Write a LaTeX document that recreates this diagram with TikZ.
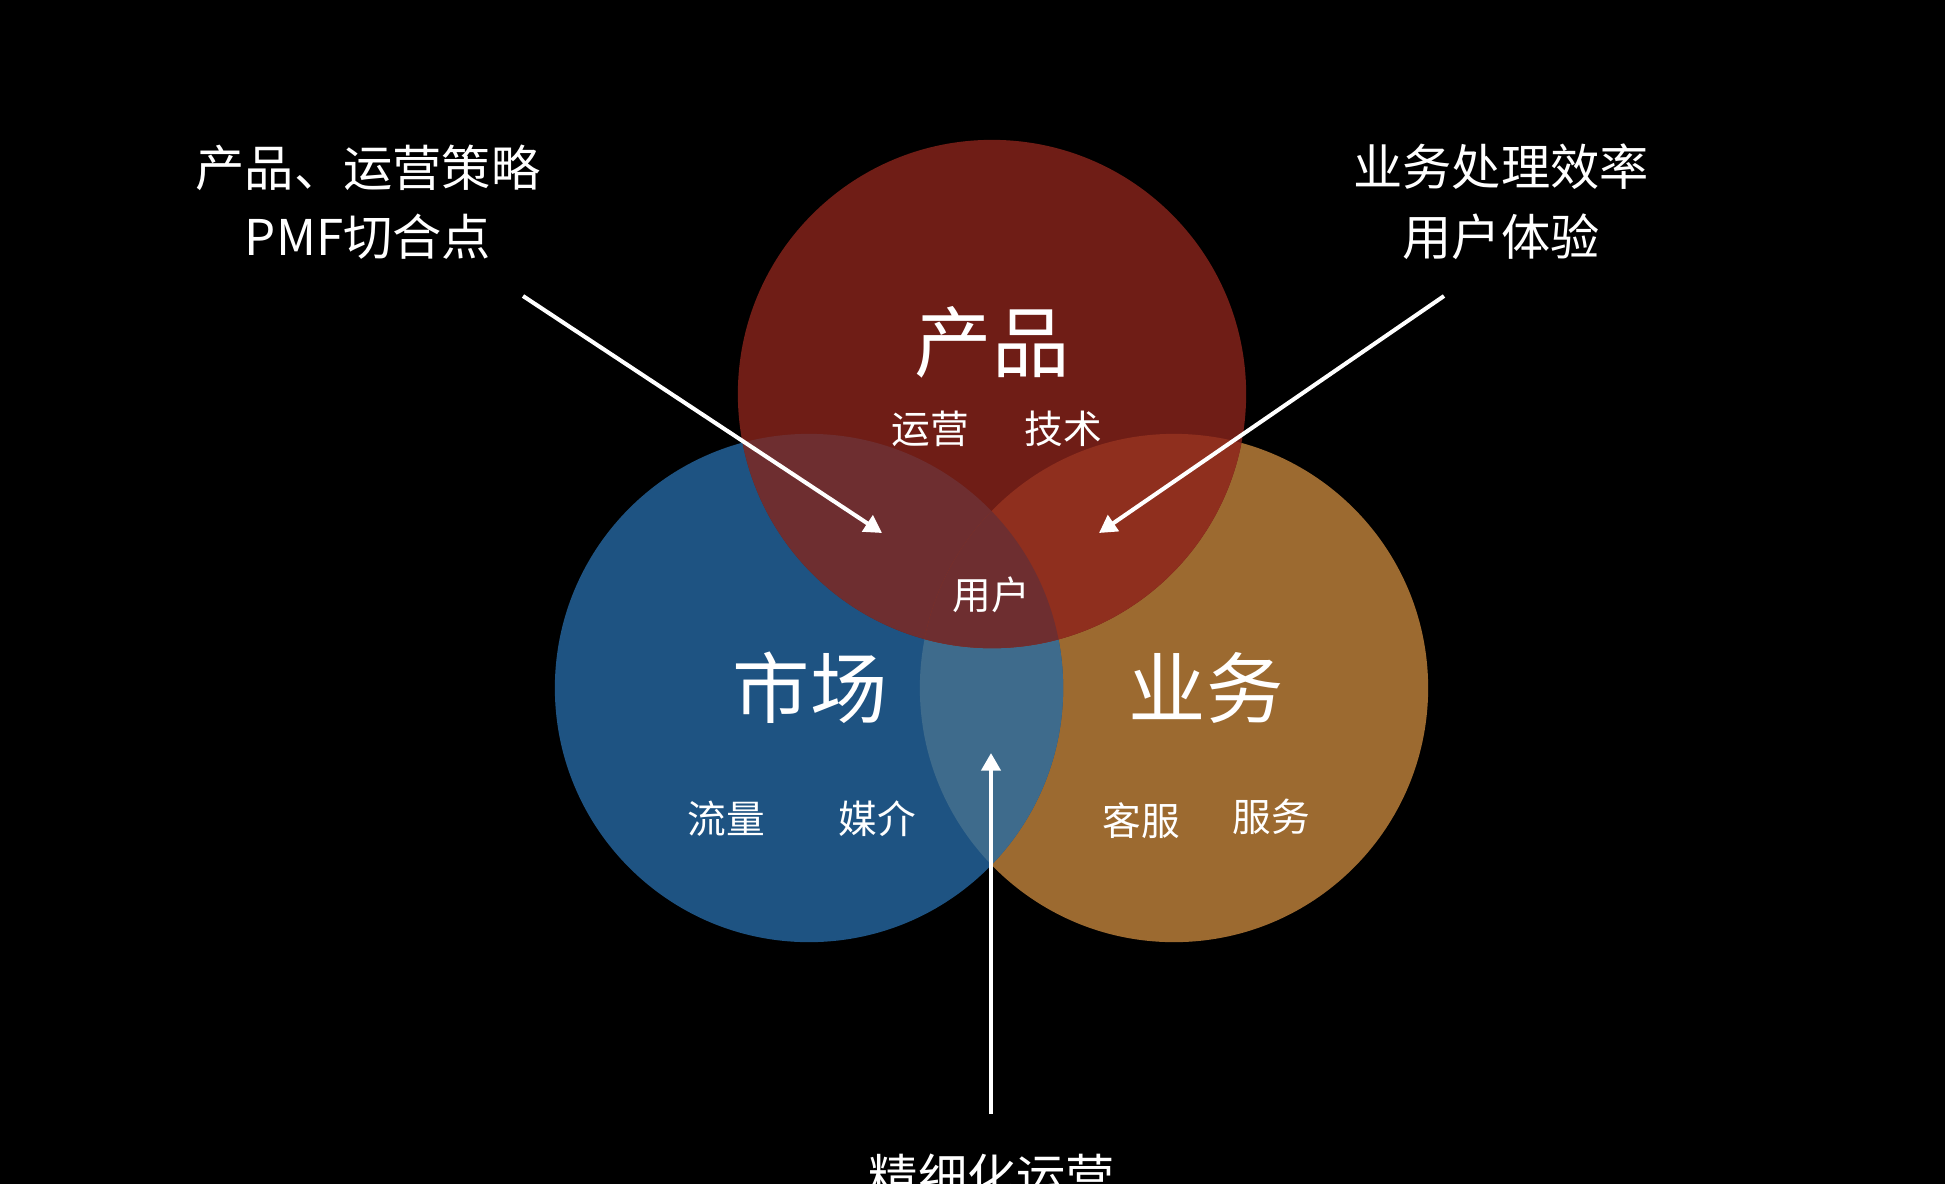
\documentclass[tikz,border=0pt]{standalone}
\usepackage{fontspec}
\setmainfont{Noto Sans CJK SC}
\usetikzlibrary{arrows.meta}

\definecolor{prodred}{RGB}{111,29,22}
\definecolor{mktblue}{RGB}{30,83,130}
\definecolor{bizorange}{RGB}{156,106,48}
\definecolor{redblue}{RGB}{110,46,48}
\definecolor{redorange}{RGB}{143,47,30}
\definecolor{blueorange}{RGB}{62,107,140}

\begin{document}
\begin{tikzpicture}[x=0.01cm,y=-0.01cm]

    % background, fixes the page size too
    \fill[black] (0,0) rectangle (1945,1184);
    \clip (0,0) rectangle (1945,1184);

    % the three circles, use the tuple for the centres
    \coordinate (P) at (992,394);
    \coordinate (M) at (809,688);
    \coordinate (B) at (1174,688);

    \fill[bizorange] (B) circle [radius=2.54cm];
    \fill[mktblue] (M) circle [radius=2.54cm];
    \fill[prodred] (P) circle [radius=2.54cm];

    % overlaps
    \begin{scope}
    \clip (M) circle [radius=2.54cm];
    \fill[blueorange] (B) circle [radius=2.54cm];
    \fill[redblue] (P) circle [radius=2.54cm];
    \end{scope}
    \begin{scope}
    \clip (P) circle [radius=2.54cm];
    \fill[redorange] (B) circle [radius=2.54cm];
    \clip (M) circle [radius=2.54cm];
    \fill[redblue] (B) circle [radius=2.54cm];
    \end{scope}

    % labels inside the circles
    \begin{scope}[every node/.style={text=white,inner sep=0pt}]
    \node[font=\fontsize{22pt}{26pt}\selectfont] (prod) at (992,342) {产品};
    \node[font=\fontsize{22pt}{26pt}\selectfont] (mkt) at (810,688) {市场};
    \node[font=\fontsize{22pt}{26pt}\selectfont] (biz) at (1206,688) {业务};
    \node[font=\fontsize{11pt}{13pt}\selectfont] (ops) at (930,429) {运营};
    \node[font=\fontsize{11pt}{13pt}\selectfont] (tech) at (1063,429) {技术};
    \node[font=\fontsize{11pt}{13pt}\selectfont] (user) at (991,595) {用户};
    \node[font=\fontsize{11pt}{13pt}\selectfont] (flow) at (726,819) {流量};
    \node[font=\fontsize{11pt}{13pt}\selectfont] (media) at (877,819) {媒介};
    \node[font=\fontsize{11pt}{13pt}\selectfont] (cs) at (1141,821) {客服};
    \node[font=\fontsize{11pt}{13pt}\selectfont] (serv) at (1271,817) {服务};
    \end{scope}

    % notes outside
    \begin{scope}[every node/.style={text=white,inner sep=0pt,align=center,
                  font=\fontsize{14pt}{19.8pt}\selectfont}]
    \node (pmf) at (368,202) {产品、运营策略\\PMF切合点};
    \node (eff) at (1501,202) {业务处理效率\\用户体验};
    \node (fine) at (992,1177) {精细化运营};
    \end{scope}

    % arrow ends
    \coordinate (pmfs) at (523,296);
    \coordinate (pmft) at (882,533);
    \coordinate (effs) at (1444,296);
    \coordinate (efft) at (1099,533);
    \coordinate (fines) at (991,1114);
    \coordinate (finet) at (991,753);

    \begin{scope}[>={Triangle[length=5pt,width=5.4pt]},
                  every path/.style={draw=white,fill=white,line width=1.15pt}]
    \draw[->] (pmfs) -- (pmft);
    \draw[->] (effs) -- (efft);
    \draw[->] (fines) -- (finet);
    \end{scope}

\end{tikzpicture}
\end{document}
